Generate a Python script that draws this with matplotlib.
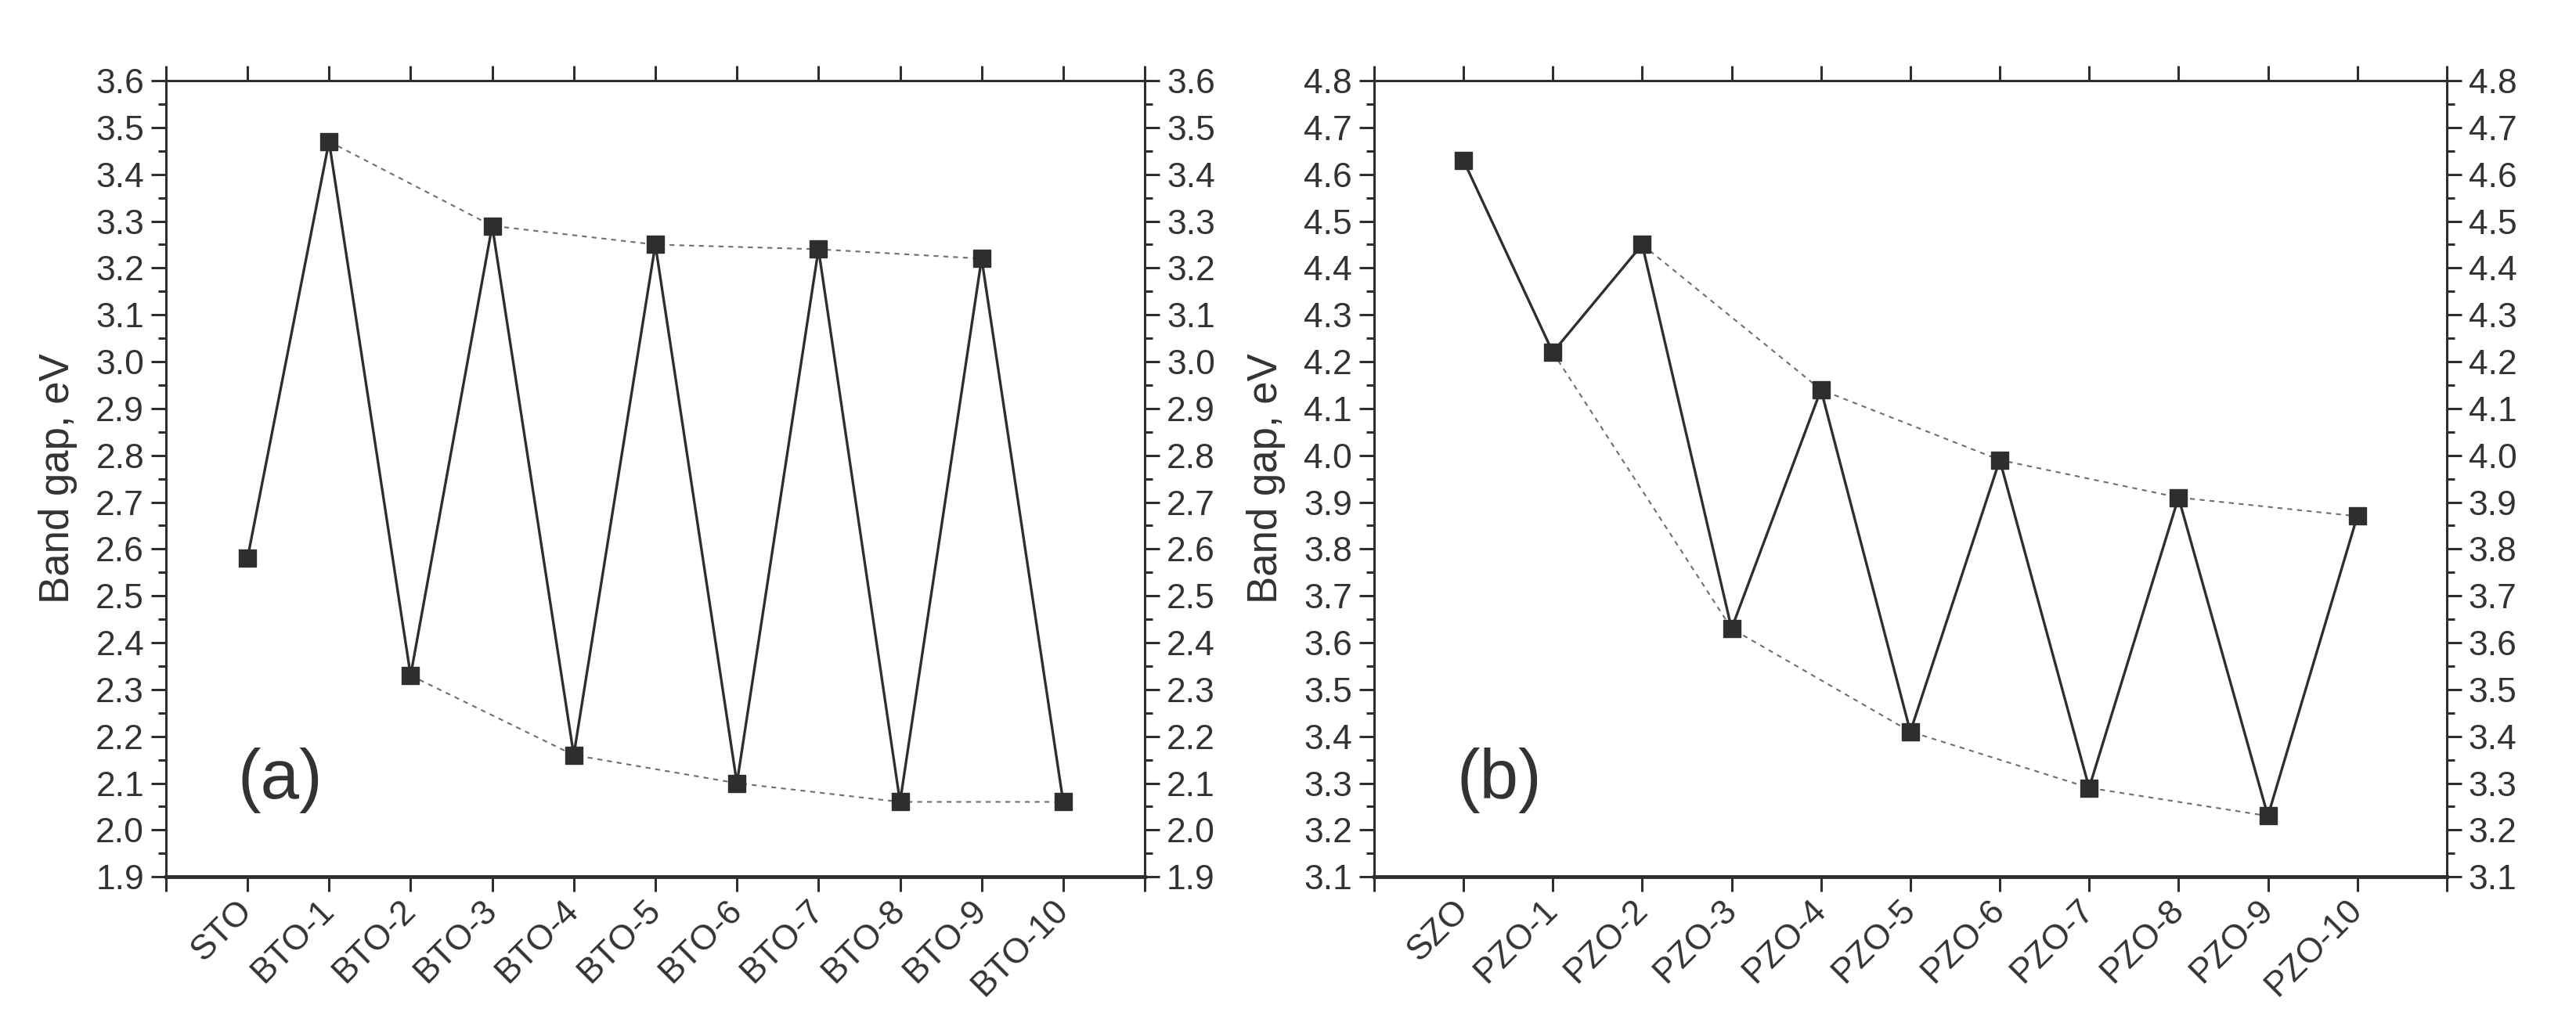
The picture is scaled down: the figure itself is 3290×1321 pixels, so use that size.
import numpy as np
import matplotlib
matplotlib.use('Agg')
import matplotlib.pyplot as plt
from matplotlib.ticker import MultipleLocator, FixedLocator, FixedFormatter, FormatStrFormatter

# band gaps
bto_labels = ['STO', 'BTO-1', 'BTO-2', 'BTO-3', 'BTO-4', 'BTO-5',
              'BTO-6', 'BTO-7', 'BTO-8', 'BTO-9', 'BTO-10']
bto_gap = [2.58, 3.47, 2.33, 3.29, 2.16, 3.25, 2.10, 3.24, 2.06, 3.22, 2.06]

pzo_labels = ['SZO', 'PZO-1', 'PZO-2', 'PZO-3', 'PZO-4', 'PZO-5',
              'PZO-6', 'PZO-7', 'PZO-8', 'PZO-9', 'PZO-10']
pzo_gap = [4.63, 4.22, 4.45, 3.63, 4.14, 3.41, 3.99, 3.29, 3.91, 3.23, 3.87]

#indices joined by the thin dashed "envelope" lines
bto_upper = [1, 3, 5, 7, 9]
bto_lower = [2, 4, 6, 8, 10]
pzo_upper = [2, 4, 6, 8, 10]
pzo_lower = [1, 3, 5, 7, 9]

bto_ylim = (1.9, 3.6)
pzo_ylim = (3.1, 4.8)

INK = '#2e2e2e'
TXT = '#333333'

plt.rcParams['font.family'] = ['Liberation Sans', 'DejaVu Sans']


def draw_panel(ax, labels, gap, upper, lower, ylim, tag):
    x = np.arange(len(labels))
    gap = np.array(gap)

    for idx in (upper, lower):
        ax.plot(x[idx], gap[idx], linestyle=(0, (3, 3)), color='#6e6e6e', lw=1.5, zorder=1)
    ax.plot(x, gap, '-', color=INK, lw=2.4, marker='s', ms=16,
            mfc=INK, mec=INK, zorder=2)

    ax.set_xlim(-1, len(labels))
    ax.set_ylim(*ylim)

    #one tick per sample plus the two empty ends
    ticks = np.arange(-1, len(labels) + 1)
    ax.xaxis.set_major_locator(FixedLocator(ticks))
    ax.xaxis.set_major_formatter(FixedFormatter([''] + labels + ['']))
    ax.yaxis.set_major_locator(MultipleLocator(0.1))
    ax.yaxis.set_minor_locator(MultipleLocator(0.05))
    ax.yaxis.set_major_formatter(FormatStrFormatter('%.1f'))

    ax.tick_params(axis='both', which='major', direction='out', length=14, width=2.2,
                   color=INK, labelcolor=TXT, labelsize=32)
    ax.tick_params(axis='y', which='minor', direction='out', length=7, width=2.2, color=INK)
    ax.tick_params(axis='y', which='both', left=True, right=True, labelleft=True, labelright=True, pad=6)
    ax.tick_params(axis='x', which='major', top=True, bottom=True, labeltop=False, pad=12)
    for lab in ax.get_xticklabels():
        lab.set_rotation(45)
        lab.set_ha('right')
        lab.set_va('center')
        lab.set_rotation_mode('anchor')

    for side in ax.spines:
        ax.spines[side].set_linewidth(2.2)
        ax.spines[side].set_color(INK)
    ax.spines['bottom'].set_linewidth(3.5)

    ax.set_ylabel('Band gap, eV', fontsize=38, color=TXT, labelpad=17,
                  family=['Liberation Sans Narrow', 'Liberation Sans'])
    ax.text(0.117, 0.121, tag, transform=ax.transAxes, fontsize=64, color=TXT,
            ha='center', va='center')


fig = plt.figure(figsize=(32.9, 13.21), dpi=100)
ax_a = fig.add_axes([0.0644, 0.152, 0.380, 0.770])
ax_b = fig.add_axes([0.5334, 0.152, 0.4164, 0.770])

draw_panel(ax_a, bto_labels, bto_gap, bto_upper, bto_lower, bto_ylim, '(a)')
draw_panel(ax_b, pzo_labels, pzo_gap, pzo_upper, pzo_lower, pzo_ylim, '(b)')

fig.savefig('out.png', dpi=100, facecolor='white')
